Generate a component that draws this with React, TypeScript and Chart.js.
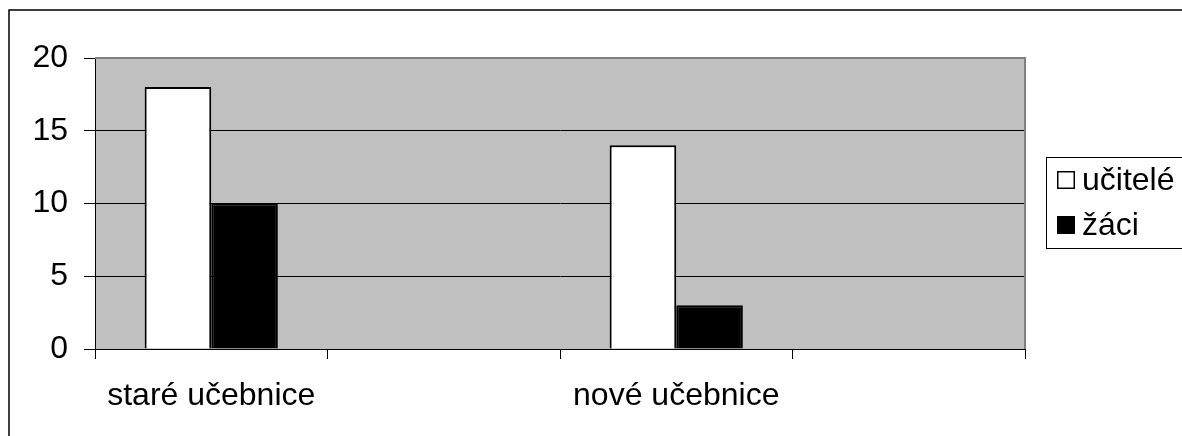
import React, { useEffect, useRef } from "react";
import { Chart, registerables } from "chart.js";

Chart.register(...registerables);

const categories: string[] = ["staré učebnice", "", "nové učebnice", ""];
const teachers: (number | null)[] = [18, null, 14, null];
const students: (number | null)[] = [10, null, 3, null];
const seriesLabels: string[] = ["učitelé", "žáci"];
const yTicks: number[] = [0, 5, 10, 15, 20];

const FONT = "'Liberation Sans', Arial, sans-serif";

export default function App() {
  const ref = useRef<HTMLCanvasElement | null>(null);

  useEffect(() => {
    document.body.style.margin = "0";
    const canvas = ref.current!;
    const bgPlugin = {
      id: "bgPlugin",
      beforeDraw(chart: any) {
        const { ctx, chartArea } = chart;
        ctx.save();
        ctx.fillStyle = "#ffffff";
        ctx.fillRect(0, 0, chart.width, chart.height);
        ctx.fillStyle = "#c0c0c0";
        ctx.fillRect(chartArea.left, chartArea.top, chartArea.right - chartArea.left, chartArea.bottom - chartArea.top);
        ctx.restore();
      },
      afterDatasetsDraw(chart: any) {
        const { ctx, chartArea } = chart;
        ctx.save();
        ctx.strokeStyle = "#808080";
        ctx.lineWidth = 2;
        ctx.beginPath();
        ctx.moveTo(chartArea.left, chartArea.top);
        ctx.lineTo(chartArea.right, chartArea.top);
        ctx.lineTo(chartArea.right, chartArea.bottom);
        ctx.stroke();
        ctx.restore();
      },
      afterDraw(chart: any) {
        const { ctx } = chart;
        ctx.save();
        // outer frame
        ctx.strokeStyle = "#000000";
        ctx.lineWidth = 1.5;
        ctx.strokeRect(9, 10, 1300, 600);
        // legend
        ctx.lineWidth = 1;
        ctx.strokeStyle = "#000000";
        ctx.strokeRect(1046.5, 157.5, 300, 91);
        ctx.font = `32px ${FONT}`;
        ctx.textBaseline = "alphabetic";
        ctx.textAlign = "left";
        chart.data.datasets.forEach((ds: any, i: number) => {
          const y = 171 + i * 45;
          ctx.fillStyle = ds.backgroundColor;
          ctx.fillRect(1057, y, 18, 18);
          ctx.lineWidth = 1.5;
          ctx.strokeStyle = "#000000";
          ctx.strokeRect(1057.75, y + 0.75, 16.5, 16.5);
          ctx.fillStyle = "#000000";
          ctx.fillText(ds.label, 1082, 190 + i * 45);
        });
        ctx.restore();
      },
    };

    const chart = new Chart(canvas, {
      type: "bar",
      data: {
        labels: categories,
        datasets: [
          {
            label: seriesLabels[0],
            data: teachers,
            backgroundColor: "#ffffff",
            borderColor: "#000000",
            borderWidth: 2,
            barPercentage: 1,
            categoryPercentage: 0.573,
          },
          {
            label: seriesLabels[1],
            data: students,
            backgroundColor: "#000000",
            borderColor: "#000000",
            borderWidth: 2,
            barPercentage: 1,
            categoryPercentage: 0.573,
          },
        ],
      },
      options: {
        responsive: false,
        animation: false,
        devicePixelRatio: 1,
        layout: { padding: { left: 0, top: 58, right: 157, bottom: 0 } },
        plugins: {
          legend: { display: false },
          tooltip: { enabled: false },
        },
        scales: {
          x: {
            grid: {
              offset: true,
              drawOnChartArea: false,
              drawTicks: true,
              tickLength: 10,
              color: "#000000",
            },
            border: { display: true, color: "#000000", width: 1 },
            ticks: {
              color: "#000000",
              font: { family: FONT, size: 32 },
              padding: 18,
              maxRotation: 0,
              autoSkip: false,
            },
            afterFit(scale: any) {
              scale.height = 87;
            },
          },
          y: {
            min: 0,
            max: 20,
            afterBuildTicks(scale: any) {
              scale.ticks = yTicks.map((v) => ({ value: v }));
            },
            grid: {
              color: "#000000",
              lineWidth: 1,
              tickLength: 11,
              drawTicks: true,
            },
            border: { display: true, color: "#000000", width: 1 },
            ticks: {
              color: "#000000",
              font: { family: FONT, size: 32 },
              padding: 16,
            },
            afterFit(scale: any) {
              scale.width = 95;
            },
          },
        },
      },
      plugins: [bgPlugin],
    } as any);
    return () => chart.destroy();
  }, []);

  return (
    <div style={{ position: "fixed", left: 0, top: 0, width: 1182, height: 436 }}>
      <canvas ref={ref} width={1182} height={436} />
    </div>
  );
}
